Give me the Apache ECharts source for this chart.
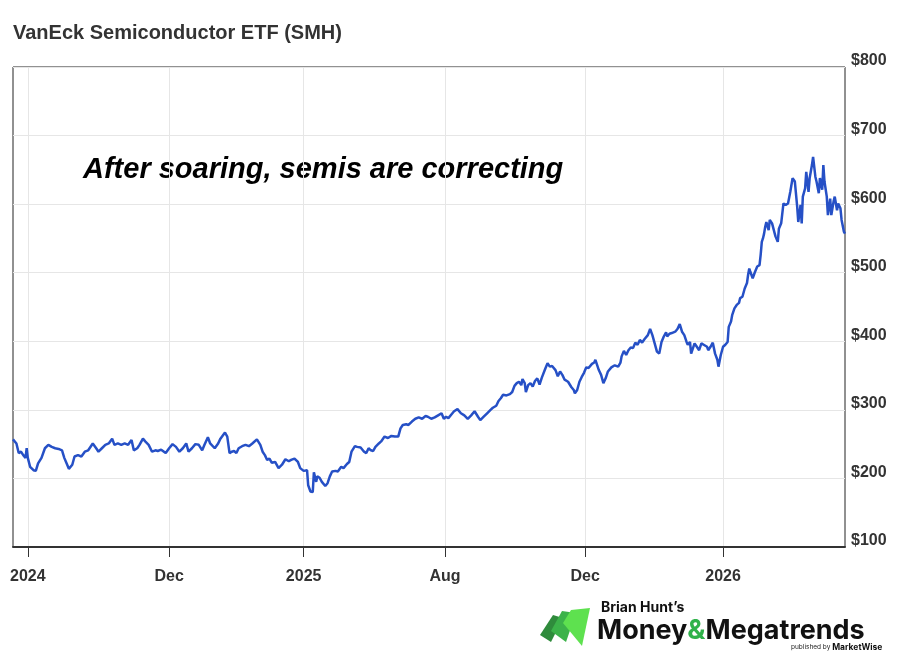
<!DOCTYPE html>
<html>
<head>
<meta charset="utf-8">
<title>VanEck Semiconductor ETF (SMH)</title>
<script src="https://cdn.jsdelivr.net/npm/echarts@6/dist/echarts.min.js"></script>
<style>
  html, body { margin: 0; padding: 0; background: #fff; }
  #main { width: 900px; height: 663px; }
</style>
</head>
<body>
<div id="main"></div>
<script>
// 日数（起点からの経過日）と SMH の終値（ドル）
const days = [
  0, 1, 3, 5, 7, 9, 11, 12, 13, 15, 18, 20, 22, 25, 28, 31, 34, 37, 40, 43,
  45, 47, 49, 52, 54, 57, 60, 63, 66, 70, 73, 75, 78, 81, 84, 87, 89, 92, 95, 98,
  101, 104, 106, 109, 111, 114, 116, 119, 122, 125, 127, 130, 134, 137, 140, 143, 146, 149, 152, 154,
  157, 160, 163, 166, 168, 171, 173, 177, 180, 182, 186, 188, 190, 192, 194, 196, 198, 201, 204, 207,
  210, 214, 217, 219, 221, 223, 225, 227, 230, 233, 236, 239, 242, 244, 247, 250, 252, 255, 258, 259,
  261, 263, 264, 266, 267, 269, 271, 274, 276, 278, 280, 283, 285, 288, 290, 293, 295, 297, 300, 302,
  305, 308, 310, 312, 314, 316, 318, 321, 323, 326, 329, 332, 335, 338, 340, 342, 345, 347, 350, 353,
  356, 359, 362, 364, 367, 370, 373, 376, 378, 380, 382, 385, 387, 390, 393, 396, 399, 402, 405, 408,
  410, 413, 416, 419, 421, 424, 425, 426, 428, 430, 433, 436, 438, 440, 442, 444, 446, 447, 449, 450,
  452, 454, 456, 458, 460, 462, 464, 467, 469, 471, 473, 476, 478, 480, 482, 484, 487, 490, 492, 493,
  495, 497, 499, 501, 503, 505, 508, 510, 511, 514, 516, 518, 520, 522, 525, 528, 531, 533, 534, 536,
  538, 540, 542, 544, 546, 548, 550, 552, 554, 557, 559, 561, 563, 565, 567, 569, 571, 573, 574, 576,
  578, 581, 583, 585, 587, 589, 591, 592, 594, 595, 598, 600, 602, 604, 606, 609, 610, 612, 614, 616,
  618, 619, 621, 623, 625, 627, 628, 630, 631, 633, 635, 637, 638, 640, 642, 644, 645, 646, 647, 649,
  651, 653, 655, 656, 657, 658, 659, 660, 661, 663, 664, 666, 669, 671, 672, 674, 676, 678, 680, 682,
  684, 686, 688, 689, 691, 692, 693, 695, 696, 698, 699, 701, 702, 704, 705, 707, 708, 710, 711, 712,
  714, 715, 717, 718, 720, 721, 723, 724, 726, 727, 729, 730
];
const prices = [
  257, 256, 251, 237, 239, 234, 230, 244, 230, 217, 212, 211, 222, 230, 244, 249, 246, 244, 243, 241,
  230, 222, 214, 220, 232, 234, 232, 239, 241, 251, 244, 239, 244, 249, 251, 258, 249, 251, 249, 251,
  249, 256, 241, 244, 249, 258, 254, 249, 239, 241, 240, 242, 237, 244, 250, 246, 239, 244, 251, 239,
  244, 250, 249, 241, 249, 260, 251, 244, 251, 258, 267, 261, 237, 239, 240, 237, 244, 247, 249, 247,
  251, 257, 249, 239, 234, 227, 229, 223, 224, 215, 220, 228, 225, 227, 229, 224, 215, 211, 212, 190,
  181, 180, 209, 195, 203, 201, 195, 189, 193, 203, 210, 211, 210, 217, 215, 221, 224, 239, 247, 246,
  245, 239, 237, 244, 241, 240, 246, 251, 254, 261, 259, 262, 261, 261, 273, 278, 279, 278, 283, 287,
  289, 287, 291, 290, 287, 289, 292, 295, 287, 290, 288, 294, 298, 301, 295, 292, 287, 292, 298, 290,
  285, 290, 295, 300, 303, 306, 305, 313, 317, 322, 321, 323, 326, 335, 339, 341, 336, 345, 339, 326,
  336, 339, 334, 342, 346, 337, 347, 360, 368, 363, 364, 358, 349, 356, 351, 344, 341, 333, 329, 324,
  329, 341, 348, 354, 362, 361, 367, 369, 373, 358, 351, 339, 346, 356, 362, 365, 363, 369, 378, 386,
  380, 387, 391, 390, 398, 395, 402, 398, 403, 409, 418, 409, 397, 385, 382, 399, 407, 413, 407, 411,
  412, 414, 418, 425, 414, 409, 399, 395, 399, 382, 397, 392, 387, 397, 395, 392, 387, 392, 398, 382,
  373, 363, 380, 392, 395, 399, 421, 429, 438, 448, 453, 456, 463, 465, 477, 485, 497, 506, 501, 492,
  501, 509, 511, 526, 545, 550, 557, 567, 574, 562, 577, 572, 553, 545, 564, 572, 601, 599, 601, 618,
  638, 633, 597, 574, 599, 572, 611, 623, 647, 618, 638, 657, 669, 640, 633, 616, 638, 621, 657, 633,
  611, 584, 608, 584, 604, 611, 591, 601, 594, 577, 560, 557
];

// 目盛りの位置（日）とラベル
const tickDays = [13, 137, 255, 379, 502, 623];
const tickLabels = ['2024', 'Dec', '2025', 'Aug', 'Dec', '2026'];

const chart = echarts.init(document.getElementById('main'));

const option = {
  animation: false,
  backgroundColor: '#ffffff',
  textStyle: { fontFamily: 'Liberation Sans, Arial, sans-serif' },
  title: {
    text: 'VanEck Semiconductor ETF (SMH)',
    left: 13,
    top: 23,
    padding: 0,
    textStyle: { fontSize: 20, fontWeight: 'bold', color: '#333333' }
  },
  grid: {
    left: 13,
    right: 55,
    top: 67,
    bottom: 116,
    show: true,
    borderColor: '#222222',
    borderWidth: 1,
    containLabel: false
  },
  xAxis: {
    type: 'value',
    min: 0,
    max: 730,
    axisLine: { show: true, onZero: false, lineStyle: { color: '#333333', width: 2 } },
    axisTick: {
      show: true,
      length: 10,
      customValues: tickDays,
      lineStyle: { color: '#333333', width: 1 }
    },
    axisLabel: {
      customValues: tickDays,
      margin: 22,
      fontSize: 16,
      fontWeight: 'bold',
      color: '#333333',
      formatter: function (v) {
        const i = tickDays.indexOf(v);
        return i >= 0 ? tickLabels[i] : '';
      }
    },
    splitLine: { show: true, lineStyle: { color: '#e6e6e6', width: 1 } }
  },
  yAxis: {
    type: 'value',
    position: 'right',
    min: 100,
    max: 800,
    interval: 100,
    axisLine: { show: false },
    axisTick: { show: false },
    axisLabel: {
      margin: 6,
      fontSize: 16,
      fontWeight: 'bold',
      color: '#333333',
      verticalAlign: 'bottom',
      lineHeight: 12,
      formatter: function (v) { return '$' + v; }
    },
    splitLine: { show: true, lineStyle: { color: '#e6e6e6', width: 1 } }
  },
  series: [
    {
      name: 'SMH',
      type: 'line',
      data: days.map(function (d, i) { return [d, prices[i]]; }),
      showSymbol: false,
      symbol: 'none',
      lineStyle: { color: '#2650c6', width: 2.5 },
      z: 3
    }
  ],
  graphic: [
    // 注釈
    {
      type: 'text',
      left: 83,
      top: 155,
      style: {
        text: 'After soaring, semis are correcting',
        fontSize: 29,
        fontWeight: 'bold',
        fontStyle: 'italic',
        fontFamily: 'Liberation Sans, Arial, sans-serif',
        fill: '#000000'
      }
    },
    // ロゴ（緑の旗）
    {
      type: 'polygon',
      shape: { points: [[540, 635], [553, 615], [563, 618], [551, 642]] },
      style: { fill: '#2f8b3c' }
    },
    {
      type: 'polygon',
      shape: { points: [[551, 631], [562, 611], [576, 613], [566, 642]] },
      style: { fill: '#3cb34a' }
    },
    {
      type: 'polygon',
      shape: { points: [[563, 623], [571, 610], [590, 608], [582, 646]] },
      style: { fill: '#5ee14f' }
    },
    {
      type: 'text',
      left: 601,
      top: 601,
      style: {
        text: 'Brian Hunt\u2019s',
        fontSize: 14,
        fontWeight: 'bold',
        fontFamily: 'Inter, sans-serif',
        fill: '#111111'
      }
    },
    {
      type: 'text',
      left: 597,
      top: 617,
      style: {
        text: '{a|Money}{b|&}{a|Megatrends}',
        rich: {
          a: { fontSize: 27, fontWeight: 'bold', fontFamily: 'Inter, sans-serif', fill: '#111111' },
          b: { fontSize: 27, fontWeight: 'bold', fontFamily: 'Inter, sans-serif', fill: '#2fb24a' }
        }
      }
    },
    {
      type: 'text',
      left: 791,
      top: 643,
      style: {
        text: '{p|published by }{m|MarketWise}',
        rich: {
          p: { fontSize: 6.5, fontFamily: 'Inter, sans-serif', fill: '#222222' },
          m: { fontSize: 8.5, fontWeight: 'bold', fontFamily: 'Inter, sans-serif', fill: '#111111' }
        }
      }
    }
  ]
};

chart.setOption(option);
</script>
</body>
</html>
